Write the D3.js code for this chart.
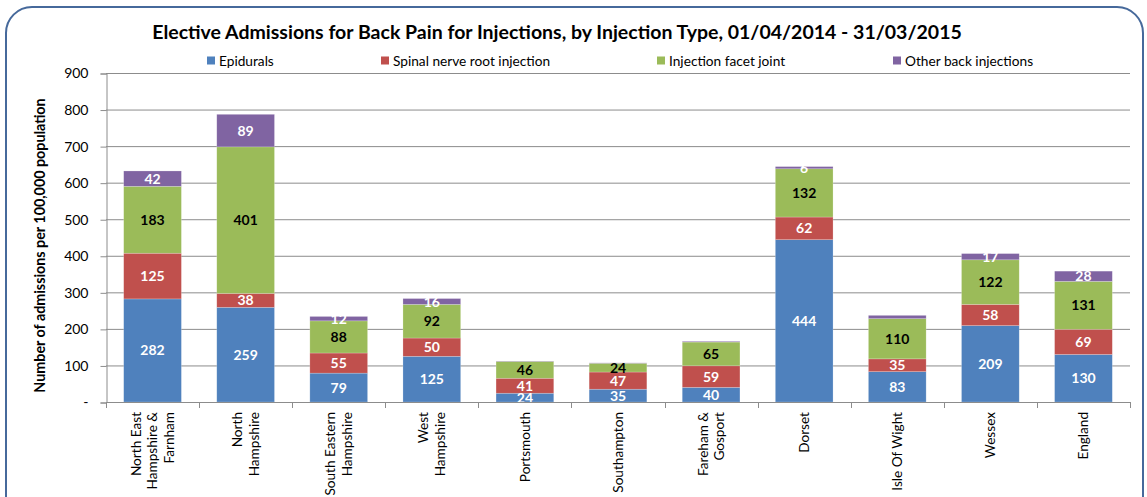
<!DOCTYPE html>
<html><head><meta charset="utf-8">
<script src="https://cdn.jsdelivr.net/npm/d3@7"></script>
<style>
html,body{margin:0;padding:0;background:#fff;}
svg{display:block;font-family:Lato,"Open Sans",sans-serif;}
</style></head>
<body>
<script>
const categories = [
  ["North East","Hampshire &","Farnham"],
  ["North","Hampshire"],
  ["South Eastern","Hampshire"],
  ["West","Hampshire"],
  ["Portsmouth"],
  ["Southampton"],
  ["Fareham &","Gosport"],
  ["Dorset"],
  ["Isle Of Wight"],
  ["Wessex"],
  ["England"]
];
const seriesNames = ["Epidurals","Spinal nerve root injection","Injection facet joint","Other back injections"];
const epidurals = [282,259,79,125,24,35,40,444,83,209,130];
const spinalNerveRoot = [125,38,55,50,41,47,59,62,35,58,69];
const facetJoint = [183,401,88,92,46,24,65,132,110,122,131];
const otherBack = [42,89,12,16,1,1,2,6,9,17,28];
// which "Other back injections" labels are shown in the original
const otherLabelShown = [true,true,true,true,false,false,false,true,false,true,true];
const yTicks = [0,100,200,300,400,500,600,700,800,900];
const titleText = "Elective Admissions for Back Pain for Injections, by Injection Type, 01/04/2014  - 31/03/2015";
const yTitle = "Number of admissions per 100,000 population";

const colors = ["#4F81BD","#C0504D","#9BBB59","#8064A2"];
const labelColors = ["#ffffff","#ffffff","#000000","#ffffff"];

const W = 1147, H = 497;
const svg = d3.select("body").append("svg").attr("width",W).attr("height",H);

// border
svg.append("rect").attr("x",6).attr("y",7).attr("width",1137).attr("height",522)
  .attr("rx",26).attr("ry",26).attr("fill","none").attr("stroke","#46699b").attr("stroke-width",2);

const plot = {left:106, right:1130, top:73, bottom:402};
const keys = categories.map((c,i)=>i);
const x = d3.scaleBand().domain(keys).range([plot.left, plot.right]).paddingInner(0.38).paddingOuter(0.19);
const y = d3.scaleLinear().domain([0,900]).range([plot.bottom, plot.top]);

// gridlines
svg.append("g").selectAll("line").data(yTicks.filter(d=>d>0)).join("line")
  .attr("x1",plot.left).attr("x2",plot.right)
  .attr("y1",d=>y(d)+0.5).attr("y2",d=>y(d)+0.5)
  .attr("stroke","#8c8c8c").attr("stroke-width",1);

// y axis
const yAxis = d3.axisLeft(y).tickValues(yTicks).tickSize(6).tickPadding(12)
  .tickFormat(d=>d===0?"-":d);
const gy = svg.append("g").attr("transform",`translate(${plot.left+0.5},0.5)`).call(yAxis);
gy.select(".domain").attr("stroke","#8c8c8c");
gy.selectAll(".tick line").attr("stroke","#8c8c8c");
gy.selectAll(".tick text").attr("font-size",14).attr("fill","#000").attr("font-family","Lato");

// stacked data
const rows = keys.map(i=>({i, s0:epidurals[i], s1:spinalNerveRoot[i], s2:facetJoint[i], s3:otherBack[i]}));
const stack = d3.stack().keys(["s0","s1","s2","s3"]);
const stacked = stack(rows);

const gBars = svg.append("g");
stacked.forEach((layer,si)=>{
  gBars.append("g").selectAll("rect").data(layer).join("rect")
    .attr("x",d=>x(d.data.i))
    .attr("width",x.bandwidth())
    .attr("y",d=>y(d[1]))
    .attr("height",d=>y(d[0])-y(d[1]))
    .attr("fill",colors[si])
    .attr("stroke","#ffffff").attr("stroke-opacity",0.35).attr("stroke-width",0.6);
});
// labels
stacked.forEach((layer,si)=>{
  gBars.append("g").selectAll("text").data(layer.filter(d=> si!==3 || otherLabelShown[d.data.i])).join("text")
    .attr("x",d=>x(d.data.i)+x.bandwidth()/2)
    .attr("y",d=>(y(d[0])+y(d[1]))/2)
    .attr("dy","0.36em")
    .attr("text-anchor","middle")
    .attr("font-size",14).attr("font-weight","bold")
    .attr("fill",labelColors[si])
    .text(d=>d[1]-d[0]);
});

// x axis
const xAxisLine = svg.append("g");
xAxisLine.append("line").attr("x1",plot.left).attr("x2",plot.right)
  .attr("y1",plot.bottom+0.5).attr("y2",plot.bottom+0.5).attr("stroke","#8c8c8c");
const bounds = d3.range(categories.length+1).map(k=>plot.left + k*(plot.right-plot.left)/categories.length);
xAxisLine.selectAll("line.t").data(bounds).join("line").attr("class","t")
  .attr("x1",d=>Math.round(d)+0.5).attr("x2",d=>Math.round(d)+0.5)
  .attr("y1",plot.bottom).attr("y2",plot.bottom+6).attr("stroke","#8c8c8c");

const lh = 16.5;
const xl = svg.append("g").selectAll("text").data(keys).join("text")
  .attr("transform",i=>`translate(${x(i)+x.bandwidth()/2},412) rotate(-90)`)
  .attr("text-anchor","end").attr("font-size",13.6).attr("fill","#000");
xl.each(function(i){
  const lines = categories[i];
  const n = lines.length;
  d3.select(this).selectAll("tspan").data(lines).join("tspan")
    .attr("x",0)
    .attr("y",(d,k)=>(k-(n-1)/2)*lh)
    .attr("dy","0.35em")
    .text(d=>d);
});

// y title
svg.append("text").attr("transform",`translate(45,${(plot.top+plot.bottom)/2+8}) rotate(-90)`)
  .attr("text-anchor","middle").attr("font-size",14.3).attr("font-weight","bold").text(yTitle);

// title
svg.append("text").attr("x",557).attr("y",39).attr("text-anchor","middle")
  .attr("font-size",19.5).attr("font-weight","bold").text(titleText);

// legend
const legendX = [207,381,657,893];
const lg = svg.append("g").selectAll("g").data(seriesNames).join("g")
  .attr("transform",(d,k)=>`translate(${legendX[k]},61)`);
lg.append("rect").attr("x",0).attr("y",-4.5).attr("width",8).attr("height",8).attr("fill",(d,k)=>colors[k]);
lg.append("text").attr("x",12).attr("dy","0.35em").attr("font-size",13.7).text(d=>d);
</script>
</body></html>
